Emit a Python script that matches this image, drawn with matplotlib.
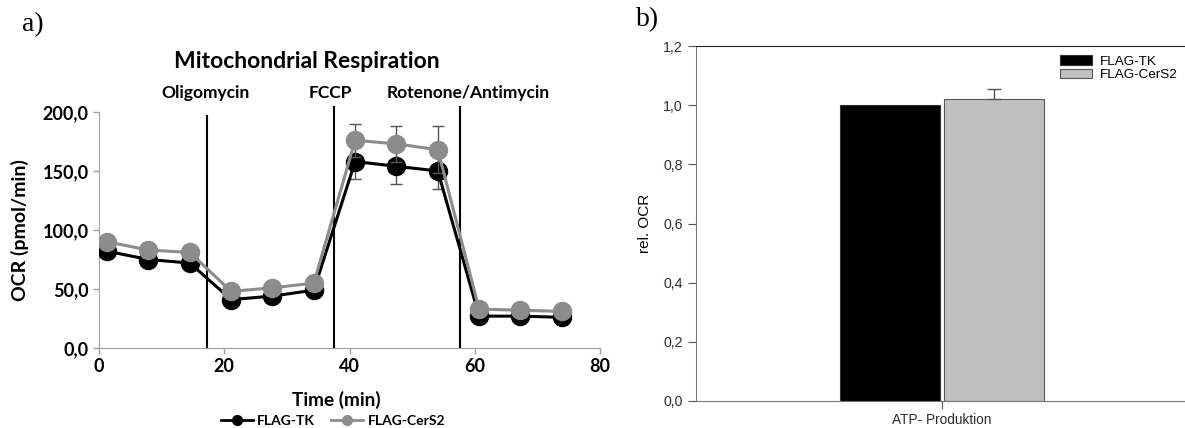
import matplotlib.pyplot as plt
from matplotlib.lines import Line2D
import numpy as np

# Seahorse measurement times (min)
time_min = [1.3, 7.9, 14.5, 21.1, 27.7, 34.3, 40.9, 47.5, 54.1, 60.7, 67.3, 73.9]
ocr_tk = [82, 75, 72, 41, 44, 49, 158, 154, 150, 27, 27, 26]
ocr_tk_err = [4, 4, 4, 3, 3, 3, 15, 15, 15, 2, 2, 2]
ocr_cers2 = [90, 83, 81, 48, 51, 55, 176, 173, 168, 33, 32, 31]
ocr_cers2_err = [4, 4, 4, 3, 3, 3, 14, 15, 20, 2, 2, 2]

injections = ["Oligomycin", "FCCP", "Rotenone/Antimycin"]
injection_times = [17.2, 37.5, 57.7]
injection_tops = [197, 204, 204]
label_x = [17.0, 37.0, 59.0]

# panel b
categories = ["ATP- Produktion"]
rel_tk = [1.0]
rel_cers2 = [1.02]
rel_cers2_err = [0.035]

BOLD = ["Lato", "DejaVu Sans"]
ARIAL = ["Liberation Sans", "DejaVu Sans"]
SERIF = ["Liberation Serif", "DejaVu Serif"]
W, H = 1185, 428

fig = plt.figure(figsize=(W / 100, H / 100), dpi=100)

# ---------- a) ----------
ax = fig.add_axes([99 / W, 1 - 348 / H, 501 / W, 236 / H])
ax.errorbar(time_min, ocr_tk, yerr=ocr_tk_err, color="black", marker="o",
            markersize=13, linewidth=2.2, ecolor="#555555", elinewidth=1,
            capsize=4, zorder=3)
ax.errorbar(time_min, ocr_cers2, yerr=ocr_cers2_err, color="#8c8c8c", marker="o",
            markersize=13, linewidth=2.2, ecolor="#555555", elinewidth=1,
            capsize=4, zorder=4)

for t, top, lx, name in zip(injection_times, injection_tops, label_x, injections):
    ax.plot([t, t], [0, top], color="black", linewidth=1.5, clip_on=False, zorder=2)
    ax.text(lx, 216, name, ha="center", va="center", fontsize=12.5,
            fontweight="bold", family=BOLD)

ax.set_xlim(0, 80)
ax.set_ylim(0, 200)
ax.set_xticks([0, 20, 40, 60, 80])
ax.set_yticks([0, 50, 100, 150, 200])
ax.set_yticklabels([f"{v:.1f}".replace(".", ",") for v in [0, 50, 100, 150, 200]])
for lab in ax.get_xticklabels() + ax.get_yticklabels():
    lab.set_fontweight("bold")
    lab.set_family(BOLD)
    lab.set_fontsize(13)
ax.tick_params(axis="both", direction="out", length=4, color="#a0a0a0", width=1)
for s in ["top", "right"]:
    ax.spines[s].set_visible(False)
for s in ["left", "bottom"]:
    ax.spines[s].set_color("#a0a0a0")
ax.set_xlabel("Time (min)", fontsize=13.7, fontweight="bold", family=BOLD)
ax.xaxis.set_label_coords(0.473, -0.18)
ax.set_ylabel("OCR (pmol/min)", fontsize=14, fontweight="bold", family=BOLD)
ax.yaxis.set_label_coords(-0.14, 0.5)
fig.text(307 / W, 1 - 61 / H, "Mitochondrial Respiration", fontsize=16.5,
         fontweight="bold", family=BOLD, ha="center", va="center")

handles = [Line2D([], [], color="black", marker="o", markersize=7, linewidth=2),
           Line2D([], [], color="#8c8c8c", marker="o", markersize=7, linewidth=2)]
fig.legend(handles, ["FLAG-TK", "FLAG-CerS2"], loc="center",
           bbox_to_anchor=(333 / W, 1 - 421 / H), ncol=2, frameon=False,
           handlelength=2.3, handletextpad=0.3, columnspacing=1.2,
           borderpad=0, prop={"family": BOLD, "weight": "bold", "size": 10})
fig.text(22 / W, 1 - 25 / H, "a)", fontsize=20, family=SERIF, va="center")

# ---------- b) ----------
bx = fig.add_axes([696 / W, 1 - 401 / H, 492 / W, 355 / H])
x = np.arange(len(categories))
w = 0.406
off = 0.213
bx.bar(x - off, rel_tk, width=w, color="black", edgecolor="#333333",
       linewidth=0.8, label="FLAG-TK")
bx.bar(x + off, rel_cers2, width=w, color="#c0c0c0", edgecolor="#555555",
       linewidth=0.8, label="FLAG-CerS2")
bx.errorbar(x + off, rel_cers2, yerr=[[0] * len(rel_cers2), rel_cers2_err],
            fmt="none", ecolor="#555555", elinewidth=1, capsize=5)
bx.set_xlim(-1, 1)
bx.set_ylim(0, 1.2)
bx.set_xticks(x)
bx.set_xticklabels(categories, fontsize=9.8, family=ARIAL, color="#2a2a3a")
yt = [0, 0.2, 0.4, 0.6, 0.8, 1.0, 1.2]
bx.set_yticks(yt)
bx.set_yticklabels([f"{v:.1f}".replace(".", ",") for v in yt], fontsize=10.2,
                   family=ARIAL, color="#2a2a3a")
bx.tick_params(axis="both", direction="out", length=6, color="#555555")
bx.tick_params(axis="x", pad=2.5)
for s in ["left", "bottom"]:
    bx.spines[s].set_color("#777777")
bx.spines["top"].set_color("#222222")
bx.set_ylabel("rel. OCR", fontsize=11, family=ARIAL)
bx.yaxis.set_label_coords(-0.09, 0.5)
bx.legend(loc="upper left", bbox_to_anchor=(1060 / W, 1 - 55 / H),
          bbox_transform=fig.transFigure, frameon=False,
          prop={"family": ARIAL, "size": 9.7}, handlelength=2.35, handleheight=0.72,
          handletextpad=0.6, labelspacing=0.1, borderaxespad=0, borderpad=0)
fig.text(636 / W, 1 - 20 / H, "b)", fontsize=20, family=SERIF, va="center")

fig.savefig("out.png", dpi=100)
